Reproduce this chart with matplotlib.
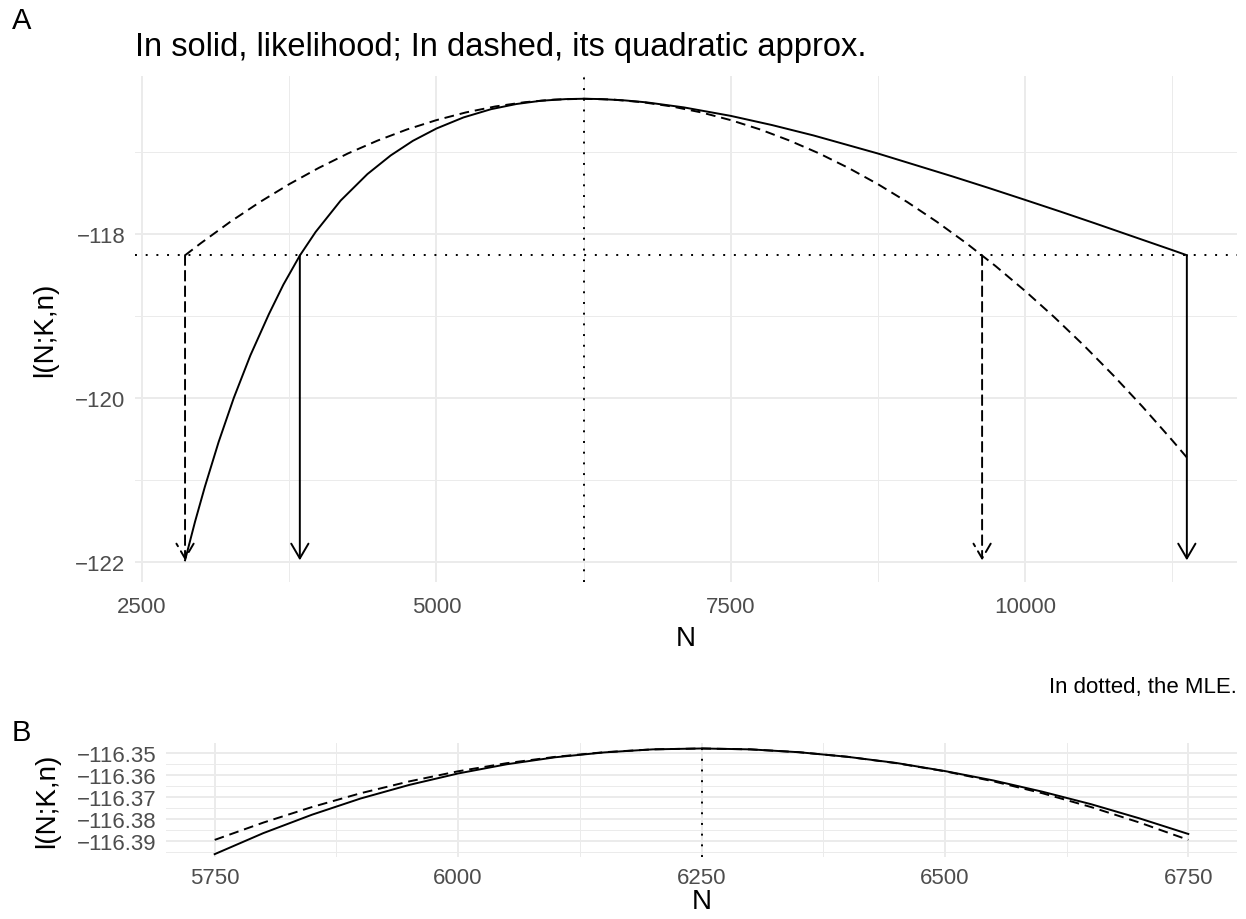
import matplotlib
matplotlib.use("Agg")
import matplotlib.pyplot as plt

plt.rcParams['font.family'] = ['Liberation Sans', 'DejaVu Sans']

# panel A: log-likelihood (solid) over N
n_lik = [2865, 2950, 3033, 3150, 3279, 3420, 3577, 3700, 3840, 3974, 4187,
         4414, 4612, 4800, 5001, 5230, 5465, 5680, 5890, 6100, 6250, 6400,
         6600, 6785, 7100, 7500, 7850, 8203, 8751, 9380, 9690, 10000, 10300,
         10591, 10900, 11250, 11374]
l_lik = [-121.985, -121.513, -121.089, -120.541, -120.002, -119.482,
         -118.979, -118.619, -118.263, -117.975, -117.591, -117.268,
         -117.040, -116.862, -116.711, -116.576, -116.475, -116.412,
         -116.372, -116.352, -116.348, -116.352, -116.368, -116.392,
         -116.453, -116.557, -116.669, -116.796, -117.017, -117.295,
         -117.437, -117.583, -117.726, -117.868, -118.022, -118.196,
         -118.259]

# panel A: quadratic approximation (dashed)
n_quad = [2865, 3000, 3250, 3500, 3750, 4000, 4250, 4500, 4750, 5000, 5250,
          5500, 5750, 6000, 6250, 6500, 6750, 7000, 7250, 7500, 7750, 8000,
          8250, 8500, 8750, 9000, 9250, 9500, 9750, 10000, 10250, 10500,
          10750, 11000, 11250, 11374]
l_quad = [-118.260, -118.111, -117.850, -117.610, -117.391, -117.193,
          -117.015, -116.859, -116.723, -116.609, -116.515, -116.442,
          -116.390, -116.358, -116.348, -116.358, -116.390, -116.442,
          -116.515, -116.609, -116.723, -116.859, -117.015, -117.193,
          -117.391, -117.610, -117.850, -118.111, -118.392, -118.695,
          -119.018, -119.362, -119.727, -120.113, -120.520, -120.729]

mle = 6250
cutoff = -118.26
ci_lik = [3840, 11374]
ci_quad = [2865, 9635]

# panel B: zoom around the MLE
n_zoom = [5750, 5800, 5850, 5900, 5950, 6000, 6050, 6100, 6150, 6200, 6250,
          6300, 6350, 6400, 6450, 6500, 6550, 6600, 6650, 6700, 6750]
l_zoom_lik = [-116.3962, -116.3866, -116.3782, -116.3708, -116.3646,
              -116.3594, -116.3552, -116.3520, -116.3498, -116.3484,
              -116.3480, -116.3484, -116.3497, -116.3518, -116.3546,
              -116.3583, -116.3626, -116.3677, -116.3734, -116.3799,
              -116.3870]
l_zoom_quad = [-116.3897, -116.3818, -116.3747, -116.3684, -116.3630,
               -116.3584, -116.3547, -116.3518, -116.3497, -116.3484,
               -116.3480, -116.3484, -116.3497, -116.3518, -116.3547,
               -116.3584, -116.3630, -116.3684, -116.3747, -116.3818,
               -116.3897]

xt_a = [2500, 5000, 7500, 10000]
xt_a_minor = [3750, 6250, 8750, 11250]
yt_a = [-122, -120, -118]
yt_a_minor = [-121, -119, -117]
xt_b = [5750, 6000, 6250, 6500, 6750]
xt_b_minor = [5875, 6125, 6375, 6625]
yt_b = [-116.39, -116.38, -116.37, -116.36, -116.35]
yt_b_minor = [-116.395, -116.385, -116.375, -116.365, -116.355]

GRID = '#EBEBEB'
TICK = '#4D4D4D'
LW = 1.4
DASH = (0, (5, 3))
DOT = (0, (1, 4.5))


def style(ax, xt, xtm, yt, ytm, ylabels, xpad):
    for s in ax.spines.values():
        s.set_visible(False)
    ax.set_xticks(xt)
    ax.set_xticks(xtm, minor=True)
    ax.set_yticks(yt)
    ax.set_yticks(ytm, minor=True)
    ax.set_yticklabels(ylabels)
    ax.grid(which='major', color=GRID, lw=1.4)
    ax.grid(which='minor', color=GRID, lw=0.7)
    ax.set_axisbelow(True)
    ax.tick_params(which='both', length=0, labelsize=16, labelcolor=TICK)
    ax.tick_params(axis='x', pad=xpad)
    ax.tick_params(axis='y', pad=7)


fig = plt.figure(figsize=(12.46, 9.2), dpi=100)
ax = fig.add_axes([135 / 1246, 1 - 583 / 920, 1102 / 1246, 506 / 920])
ax.plot(n_lik, l_lik, color='black', lw=LW)
ax.plot(n_quad, l_quad, color='black', lw=LW, linestyle=DASH)
ax.axhline(cutoff, color='black', lw=LW, linestyle=DOT)
ax.axvline(mle, color='black', lw=LW, linestyle=DOT)
bottom = min(l_lik)
head = '->,head_length=0.53,head_width=0.31'
for x in ci_lik:
    ax.annotate('', xy=(x, bottom), xytext=(x, cutoff),
                arrowprops=dict(arrowstyle=head, lw=LW, color='black',
                                shrinkA=0, shrinkB=0, mutation_scale=20))
for x in ci_quad:
    ax.annotate('', xy=(x, bottom), xytext=(x, cutoff),
                arrowprops=dict(arrowstyle=head, lw=LW, color='black',
                                linestyle=DASH, shrinkA=0, shrinkB=0,
                                mutation_scale=20))
ax.set_xlim(2440, 11800)
ax.set_ylim(-122.25, -116.07)
style(ax, xt_a, xt_a_minor, yt_a, yt_a_minor,
      ['\u2212' + str(abs(v)) for v in yt_a], 10)
ax.set_xlabel('N', fontsize=20, labelpad=6)
ax.set_ylabel('l(N;K,n)', fontsize=20, labelpad=12)

axb = fig.add_axes([166 / 1246, 1 - 858 / 920, 1071 / 1246, 114 / 920])
axb.plot(n_zoom, l_zoom_lik, color='black', lw=LW)
axb.plot(n_zoom, l_zoom_quad, color='black', lw=LW, linestyle=DASH)
axb.axvline(mle, color='black', lw=LW, linestyle=DOT)
axb.set_xlim(5700, 6800)
axb.set_ylim(-116.3975, -116.3455)
style(axb, xt_b, xt_b_minor, yt_b, yt_b_minor,
      ['\u2212%.2f' % abs(v) for v in yt_b], 7)
axb.set_xlabel('N', fontsize=20, labelpad=0)
axb.set_ylabel('l(N;K,n)', fontsize=20, labelpad=12)

fig.text(12 / 1246, 1 - 29 / 920, 'A', fontsize=21, va='baseline')
fig.text(135 / 1246, 1 - 56 / 920,
         'In solid, likelihood; In dashed, its quadratic approx.',
         fontsize=23.5, va='baseline')
fig.text(1237 / 1246, 1 - 693 / 920, 'In dotted, the MLE.', fontsize=16,
         ha='right', va='baseline')
fig.text(12 / 1246, 1 - 741 / 920, 'B', fontsize=21, va='baseline')

fig.savefig('out.png', dpi=100)
